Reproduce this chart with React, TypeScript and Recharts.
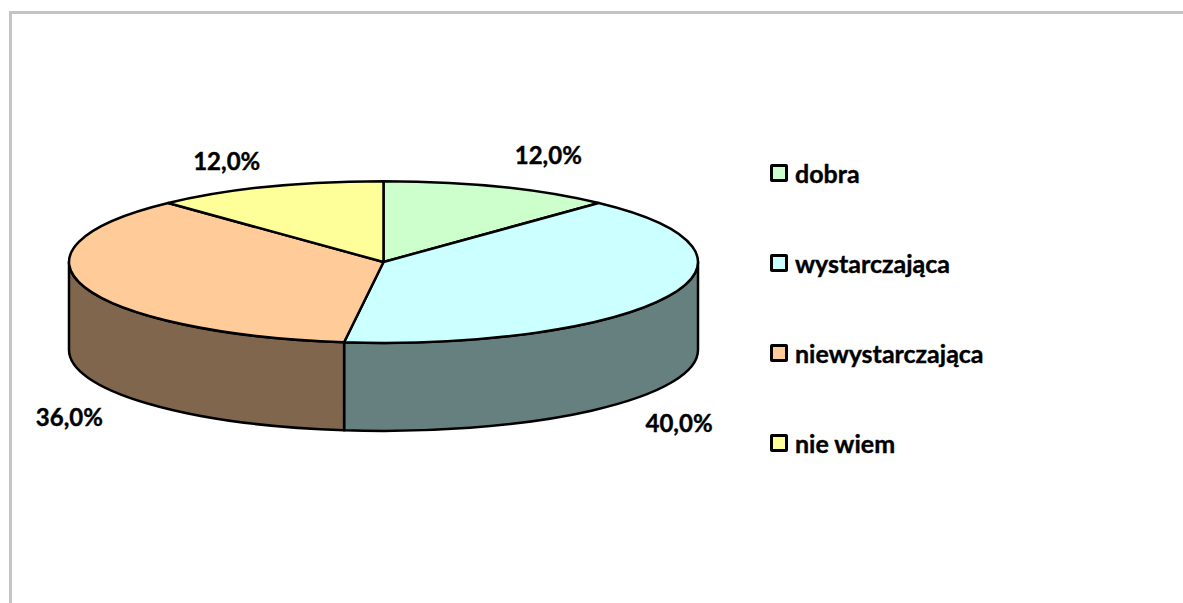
import { PieChart, Pie, Legend } from 'recharts'

const categories = ['dobra', 'wystarczająca', 'niewystarczająca', 'nie wiem']
const shares = [12, 40, 36, 12]
const colors = ['#ccffcc', '#ccffff', '#ffcc99', '#ffff99']
const sideColors = ['#667f66', '#667f7f', '#7f664c', '#7f7f4c']

const FONT = 'Lato, Carlito, sans-serif'
const SQUASH = 81 / 315 // the disc is seen from the side
const DEPTH = 88
const RAD = Math.PI / 180

// nudges of the percent labels away from the rim of the disc
const labelNudge = [
  { dx: 49, dy: -32 },
  { dx: 11, dy: 126 },
  { dx: -15, dy: 130 },
  { dx: -41, dy: -26 },
]

const rows = categories.map((name, i) => ({
  name,
  value: shares[i],
  fill: colors[i],
  side: sideColors[i],
}))

const rim = (cx: number, cy: number, r: number, angle: number) => ({
  x: cx + r * Math.cos(angle * RAD),
  y: cy - r * SQUASH * Math.sin(angle * RAD),
})

// recharts gives math angles, going clockwise from 90 to -270
const DiscSlice = (props: any) => {
  const { cx, cy, outerRadius: r, startAngle, endAngle, fill, payload } = props
  const ry = r * SQUASH
  const a = rim(cx, cy, r, startAngle)
  const b = rim(cx, cy, r, endAngle)
  const large = Math.abs(startAngle - endAngle) > 180 ? 1 : 0

  // only the front half of the rim (0 to -180) shows a wall
  const from = Math.min(startAngle, 0)
  const to = Math.max(endAngle, -180)
  let wall = null
  if (from > to) {
    const w0 = rim(cx, cy, r, from)
    const w1 = rim(cx, cy, r, to)
    const d =
      `M${w0.x},${w0.y} A${r},${ry} 0 0 1 ${w1.x},${w1.y} ` +
      `L${w1.x},${w1.y + DEPTH} A${r},${ry} 0 0 0 ${w0.x},${w0.y + DEPTH} Z`
    wall = <path d={d} fill={payload.side} stroke="#000" strokeWidth={2.5} strokeLinejoin="round" />
  }

  return (
    <g>
      {wall}
      <path
        d={`M${cx},${cy} L${a.x},${a.y} A${r},${ry} 0 ${large} 1 ${b.x},${b.y} Z`}
        fill={fill}
        stroke="#000"
        strokeWidth={2.5}
        strokeLinejoin="round"
      />
    </g>
  )
}

const percentLabel = (props: any) => {
  const { cx, cy, outerRadius, midAngle, index, value } = props
  const p = rim(cx, cy, outerRadius, midAngle)
  const nudge = labelNudge[index]
  return (
    <text
      x={p.x + nudge.dx}
      y={p.y + nudge.dy}
      textAnchor="middle"
      dominantBaseline="central"
      fontFamily={FONT}
      fontWeight={700}
      fontSize={24}
      fill="#000"
      stroke="#000"
      strokeWidth={0.4}
    >
      {value.toFixed(1).replace('.', ',')}%
    </text>
  )
}

const LegendRows = (props: any) => (
  <div>
    {props.payload.map((item: any) => (
      <div key={item.value} style={{ display: 'flex', alignItems: 'center', height: 90 }}>
        <span
          style={{
            width: 12,
            height: 12,
            background: item.color,
            border: '3px solid #000',
            borderRadius: 2,
            marginRight: 7,
          }}
        />
        <span
          style={{
            fontFamily: FONT,
            fontWeight: 700,
            fontSize: 25,
            color: '#000',
            WebkitTextStroke: '0.4px #000',
          }}
        >
          {item.value}
        </span>
      </div>
    ))}
  </div>
)

export default function App() {
  return (
    <div style={{ position: 'absolute', left: 0, top: 0, width: 1183, height: 603, overflow: 'hidden', background: '#fff' }}>
      <div
        style={{
          position: 'absolute',
          left: 9,
          top: 11,
          width: 1183,
          height: 603,
          borderLeft: '3px solid #c4c4c4',
          borderTop: '3px solid #c4c4c4',
        }}
      />
      <PieChart
        width={1183}
        height={603}
        margin={{ top: 0, right: 0, bottom: 0, left: 0 }}
        style={{ position: 'absolute', left: 0, top: 0 }}
      >
        <Pie
          data={rows}
          dataKey="value"
          nameKey="name"
          cx={383.5}
          cy={262}
          outerRadius={314.5}
          startAngle={90}
          endAngle={-270}
          shape={DiscSlice}
          label={percentLabel}
          labelLine={false}
          isAnimationActive={false}
        />
        <Legend
          layout="vertical"
          content={LegendRows}
          itemSorter={null}
          wrapperStyle={{ left: 770, top: 128, width: 300 }}
        />
      </PieChart>
    </div>
  )
}
